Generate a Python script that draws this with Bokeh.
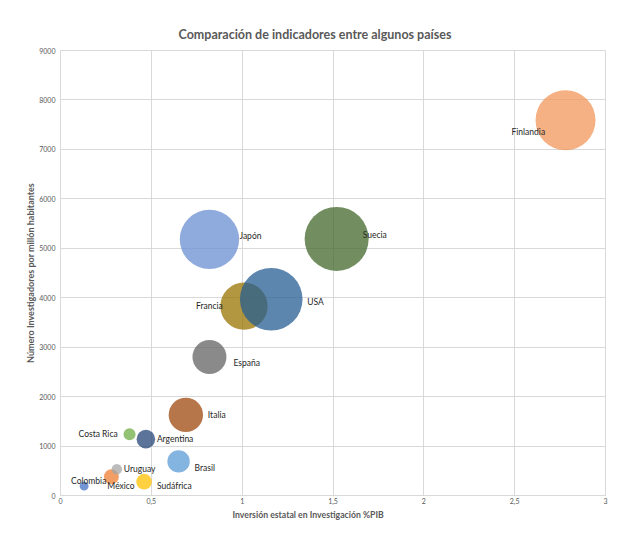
from bokeh.plotting import figure
from bokeh.models import ColumnDataSource, Range1d, FixedTicker, Title
from bokeh.core.properties import value
from bokeh.embed import file_html
from bokeh.resources import INLINE

# ---- data ----
paises = ["Colombia", "México", "Uruguay", "Sudáfrica", "Brasil", "Costa Rica",
          "Argentina", "Italia", "España", "Francia", "USA", "Suecia", "Japón", "Finlandia"]
inversion_pib = [0.13, 0.28, 0.31, 0.46, 0.65, 0.38, 0.47, 0.69, 0.82, 1.01, 1.16, 1.52, 0.82, 2.78]
investigadores = [190, 380, 530, 280, 690, 1240, 1140, 1630, 2800, 3830, 3970, 5190, 5180, 7590]
tamano = [20, 56, 27, 61, 125, 36, 86, 296, 289, 560, 980, 1024, 880, 900]

x_ticks = [0, 0.5, 1, 1.5, 2, 2.5, 3]
x_tick_labels = ["0", "0,5", "1", "1,5", "2", "2,5", "3"]
y_ticks = [0, 1000, 2000, 3000, 4000, 5000, 6000, 7000, 8000, 9000]

# ---- styles / layout ----
colores = ["#4472C4", "#ED7D31", "#A5A5A5", "#FFC000", "#5B9BD5", "#70AD47",
           "#264478", "#9E480E", "#636363", "#997300", "#255E91", "#43682B",
           "#698ED0", "#F1975A"]
label_dx = [-13, -4, 7, 13, 16, -51, 11, 22, 24, -48, 36, 26, 30, -54]
label_dy = [-5, 9, 0, 4, 7, 0, 0, 0, 6, 0, 3, -4, -3, 12]
FONT = "Lato"
diam = [2 * (t ** 0.5) for t in tamano]

src = ColumnDataSource(dict(x=inversion_pib, y=investigadores, name=paises,
                            color=colores, size=diam, dx=label_dx, dy=label_dy))

p = figure(width=617, height=535, output_backend="svg", toolbar_location=None,
           x_range=Range1d(0, 3), y_range=Range1d(0, 9000),
           min_border_left=60, min_border_right=12, min_border_top=50, min_border_bottom=40)
p.background_fill_color = "white"
p.border_fill_color = "white"
p.outline_line_color = "#d9d9d9"

p.title.text = "Comparación de indicadores entre algunos países"
p.title.align = "left"
p.title.offset = 118
p.title.standoff = 17
p.title.text_font = FONT
p.title.text_font_size = "12.5px"
p.title.text_font_style = "bold"
p.title.text_color = "#595959"

p.xgrid.ticker = FixedTicker(ticks=x_ticks)
p.ygrid.ticker = FixedTicker(ticks=y_ticks)
p.grid.grid_line_color = "#d9d9d9"
p.grid.grid_line_width = 1

p.xaxis.ticker = FixedTicker(ticks=x_ticks)
p.xaxis.major_label_overrides = {t: l for t, l in zip(x_ticks, x_tick_labels)}
p.yaxis.ticker = FixedTicker(ticks=y_ticks)
for ax in (p.xaxis, p.yaxis):
    ax.axis_line_color = "#d9d9d9"
    ax.major_tick_line_color = None
    ax.minor_tick_line_color = None
    ax.major_tick_out = 0
    ax.major_label_text_font = FONT
    ax.major_label_text_font_size = "7px"
    ax.major_label_text_color = "#595959"
    ax.major_label_standoff = 5
p.xaxis.major_label_standoff = 2

p.yaxis.axis_label = "Número Investigadores por millón habitantes"
p.yaxis.axis_label_text_font = FONT
p.yaxis.axis_label_text_font_size = "9px"
p.yaxis.axis_label_text_font_style = "bold"
p.yaxis.axis_label_text_color = "#595959"
p.yaxis.axis_label_standoff = 0

p.add_layout(Title(text="Inversión estatal en Investigación %PIB", align="left",
                   offset=172, standoff=0, text_font=FONT, text_font_size="8.7px",
                   text_font_style="bold", text_color="#595959"), "below")

p.scatter("x", "y", source=src, size="size", fill_color="color", fill_alpha=0.75,
          line_color=None)

p.text("x", "y", text="name", source=src, x_offset="dx", y_offset="dy",
       text_font=value(FONT), text_font_size="8.5px", text_color="#262626",
       text_align="left", text_baseline="middle")

open("out.html", "w").write(file_html(p, INLINE))
